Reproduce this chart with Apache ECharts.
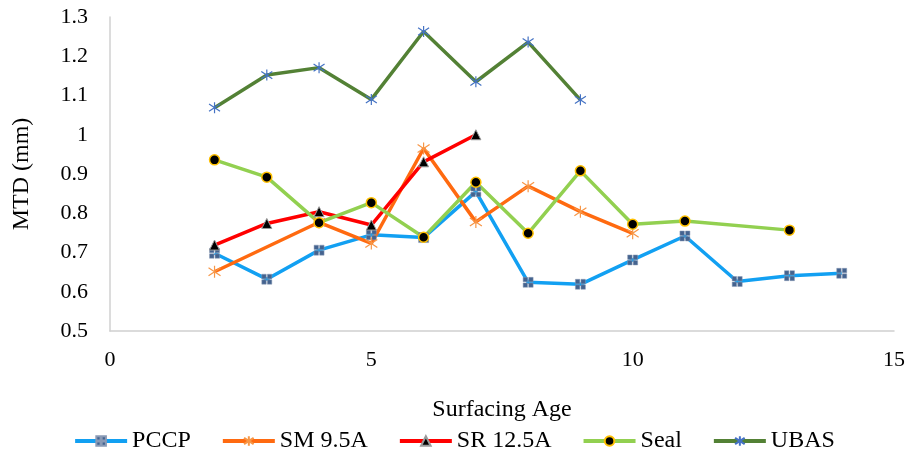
<!DOCTYPE html>
<html>
<head>
<meta charset="utf-8">
<script src="https://cdn.jsdelivr.net/npm/echarts@6/dist/echarts.min.js"></script>
<style>
html,body{margin:0;padding:0;background:#fff;}
#chart{width:908px;height:470px;}
</style>
</head>
<body>
<div id="chart"></div>
<script>
const seriesNames = ['PCCP', 'SM 9.5A', 'SR 12.5A', 'Seal', 'UBAS'];

const pccpAge = [2, 3, 4, 5, 6, 7, 8, 9, 10, 11, 12, 13, 14];
const pccpMTD = [0.698, 0.632, 0.706, 0.745, 0.738, 0.855, 0.624, 0.619, 0.681, 0.742, 0.626, 0.641, 0.647];

const smAge = [2, 4, 5, 6, 7, 8, 9, 10];
const smMTD = [0.651, 0.777, 0.723, 0.965, 0.778, 0.869, 0.804, 0.749];

const srAge = [2, 3, 4, 5, 6, 7];
const srMTD = [0.719, 0.774, 0.804, 0.770, 0.931, 1.0];

const sealAge = [2, 3, 4, 5, 6, 7, 8, 9, 10, 11, 13];
const sealMTD = [0.936, 0.892, 0.776, 0.827, 0.739, 0.879, 0.749, 0.908, 0.772, 0.780, 0.757];

const ubasAge = [2, 3, 4, 5, 6, 7, 8, 9];
const ubasMTD = [1.069, 1.152, 1.171, 1.090, 1.263, 1.135, 1.236, 1.089];

const xTicks = [0, 5, 10, 15];
const yTicks = [0.5, 0.6, 0.7, 0.8, 0.9, 1, 1.1, 1.2, 1.3];

function pairs(xs, ys) { return xs.map((x, i) => [x, ys[i]]); }

const FONT = 'Liberation Serif';
const asterisk = 'path://M0,-6L0,6M-5,-4L5,4M-5,4L5,-4';
const quadSquare = 'path://M0,0H4V4H0Z M5,0H9V4H5Z M0,5H4V9H0Z M5,5H9V9H5Z';

const chart = echarts.init(document.getElementById('chart'));
chart.setOption({
  animation: false,
  backgroundColor: '#ffffff',
  textStyle: { fontFamily: FONT },
  grid: { left: 110, right: 13, top: 17, bottom: 139 },
  legend: {
    bottom: 12,
    left: 'center',
    itemWidth: 52,
    itemHeight: 12,
    itemGap: 30,
    lineStyle: { width: 4 },
    textStyle: { fontFamily: FONT, fontSize: 24, color: '#000' },
    data: seriesNames
  },
  xAxis: {
    type: 'value',
    min: xTicks[0], max: xTicks[xTicks.length - 1], interval: 5,
    name: 'Surfacing Age',
    nameLocation: 'middle',
    nameGap: 67,
    nameTextStyle: { fontFamily: FONT, fontSize: 24, color: '#000' },
    axisLine: { show: true, lineStyle: { color: '#d0d0d0', width: 1.5 } },
    axisTick: { show: false },
    splitLine: { show: false },
    axisLabel: { fontFamily: FONT, fontSize: 22, color: '#000', margin: 18 }
  },
  yAxis: {
    type: 'value',
    min: yTicks[0], max: yTicks[yTicks.length - 1], interval: 0.1,
    name: 'MTD (mm)',
    nameLocation: 'middle',
    nameGap: 76,
    nameTextStyle: { fontFamily: FONT, fontSize: 24, color: '#000' },
    axisLine: { show: true, lineStyle: { color: '#d0d0d0', width: 1.5 } },
    axisTick: { show: false },
    splitLine: { show: false },
    axisLabel: {
      fontFamily: FONT, fontSize: 22, color: '#000', margin: 22,
      formatter: v => String(Math.round(v * 10) / 10)
    }
  },
  series: [
    {
      name: seriesNames[0], type: 'line', data: pairs(pccpAge, pccpMTD),
      lineStyle: { color: '#12A0F2', width: 3.5 },
      symbol: quadSquare, symbolSize: 10, showAllSymbol: true,
      itemStyle: { color: '#44638F', borderColor: '#8a9ab5', borderWidth: 0.5 }
    },
    {
      name: seriesNames[1], type: 'line', data: pairs(smAge, smMTD),
      lineStyle: { color: '#FF6A10', width: 3.5 },
      symbol: asterisk, symbolSize: 12, showAllSymbol: true,
      itemStyle: { color: 'rgba(0,0,0,0)', borderColor: '#F79646', borderWidth: 1.2 }
    },
    {
      name: seriesNames[2], type: 'line', data: pairs(srAge, srMTD),
      lineStyle: { color: '#FF0000', width: 3.5 },
      symbol: 'triangle', symbolSize: 10, showAllSymbol: true,
      itemStyle: { color: '#000000', borderColor: '#9a9a9a', borderWidth: 1 }
    },
    {
      name: seriesNames[3], type: 'line', data: pairs(sealAge, sealMTD),
      lineStyle: { color: '#92D050', width: 3.5 },
      symbol: 'circle', symbolSize: 10, showAllSymbol: true,
      itemStyle: { color: '#000000', borderColor: '#FFC000', borderWidth: 1.5 }
    },
    {
      name: seriesNames[4], type: 'line', data: pairs(ubasAge, ubasMTD),
      lineStyle: { color: '#538135', width: 3.5 },
      symbol: asterisk, symbolSize: 11, showAllSymbol: true,
      itemStyle: { color: 'rgba(0,0,0,0)', borderColor: '#4472C4', borderWidth: 1.2 }
    }
  ]
});
</script>
</body>
</html>
